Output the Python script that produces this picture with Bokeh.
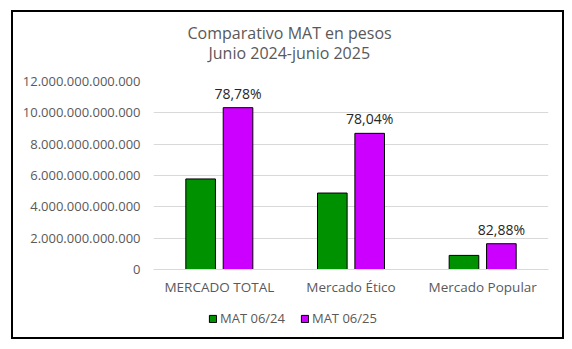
from bokeh.plotting import figure
from bokeh.layouts import column
from bokeh.models import (ColumnDataSource, FactorRange, FixedTicker, Legend, LegendItem, Title)
from bokeh.transform import dodge
from bokeh.core.properties import value
from bokeh.embed import file_html
from bokeh.resources import INLINE

categories = ["MERCADO TOTAL", "Mercado Ético", "Mercado Popular"]
mat_0624 = [5.78e12, 4.88e12, 0.90e12]
mat_0625 = [10.33e12, 8.69e12, 1.645e12]
pct_labels = ["78,78%", "78,04%", "82,88%"]
series_names = ["MAT 06/24", "MAT 06/25"]
y_ticks = [0, 2e12, 4e12, 6e12, 8e12, 10e12, 12e12]
y_tick_labels = ["0", "2.000.000.000.000", "4.000.000.000.000", "6.000.000.000.000",
                 "8.000.000.000.000", "10.000.000.000.000", "12.000.000.000.000"]
title_lines = ["Comparativo MAT  en pesos", "Junio 2024-junio 2025"]

FONT = "Open Sans"
GRAY = "#595959"
GREEN = "#009100"
MAGENTA = "#CC00FF"

src = ColumnDataSource(dict(cat=categories, a=mat_0624, b=mat_0625, lbl=pct_labels))

p = figure(width=549, height=288, output_backend="svg", toolbar_location=None,
           x_range=FactorRange(*categories, range_padding=0), y_range=(0, 12e12),
           min_border_left=140, min_border_right=14, min_border_top=69, min_border_bottom=31,
           title=None)
p.outline_line_color = None
p.background_fill_color = "white"
p.border_fill_color = "white"

p.vbar(x=dodge("cat", -0.142, range=p.x_range), top="a", width=0.225, source=src,
       fill_color=GREEN, line_color="black", line_width=1)
p.vbar(x=dodge("cat", 0.142, range=p.x_range), top="b", width=0.225, source=src,
       fill_color=MAGENTA, line_color="black", line_width=1)

p.text(x=dodge("cat", 0.142, range=p.x_range), y="b", text="lbl", source=src,
       text_align="center", text_baseline="bottom", y_offset=-5,
       text_font=value(FONT), text_font_size="14px", text_color="#262626")

# axes
p.yaxis.ticker = FixedTicker(ticks=y_ticks)
p.yaxis.major_label_overrides = {t: l for t, l in zip(y_ticks, y_tick_labels)}
p.yaxis.axis_line_color = None
p.yaxis.major_tick_line_color = None
p.yaxis.minor_tick_line_color = None
p.yaxis.major_label_standoff = 7
p.yaxis.major_label_text_font = FONT
p.yaxis.major_label_text_font_size = "13px"
p.yaxis.major_label_text_color = GRAY

p.xaxis.axis_line_color = "#D9D9D9"
p.xaxis.major_tick_line_color = None
p.xaxis.minor_tick_line_color = None
p.xaxis.major_label_standoff = 2
p.xaxis.major_label_text_font = FONT
p.xaxis.major_label_text_font_size = "13.5px"
p.xaxis.major_label_text_color = GRAY

p.xgrid.grid_line_color = None
p.ygrid.grid_line_color = "#D9D9D9"
p.ygrid.ticker = FixedTicker(ticks=y_ticks)

# title (two lines, lower line added first)
p.add_layout(Title(text=title_lines[1], align="left", offset=55, text_font=FONT,
                   text_font_size="16px", text_font_style="normal",
                   text_color=GRAY, standoff=36), "above")
p.add_layout(Title(text=title_lines[0], align="left", offset=34, text_font=FONT,
                   text_font_size="16px", text_font_style="normal",
                   text_color=GRAY, standoff=-44), "above")

# legend strip below the chart (legend swatches use off-screen proxy bars)
p2 = figure(width=549, height=37, output_backend="svg", toolbar_location=None,
            x_range=(0, 1), y_range=(0, 1), min_border=0, title=None)
p2.axis.visible = False
p2.grid.visible = False
p2.outline_line_color = None
p2.background_fill_color = "white"
p2.border_fill_color = "white"
la = p2.vbar(x=[-10], top=[-10], bottom=[-11], width=0.1,
             fill_color=GREEN, line_color="black", line_width=1)
lb = p2.vbar(x=[-10], top=[-10], bottom=[-11], width=0.1,
             fill_color=MAGENTA, line_color="black", line_width=1)
legend = Legend(items=[LegendItem(label=series_names[0], renderers=[la]),
                       LegendItem(label=series_names[1], renderers=[lb])],
                orientation="horizontal", location=(55, 10),
                label_text_font=FONT, label_text_font_size="13px", label_text_color=GRAY,
                glyph_width=9, glyph_height=9, label_standoff=3, spacing=15,
                background_fill_alpha=0, border_line_color=None, padding=0, margin=0)
p2.add_layout(legend, "center")

layout = column(p, p2, spacing=0, margin=(10, 0, 0, 11), styles={"border": "2px solid black"})

open("out.html", "w").write(file_html(layout, INLINE))
